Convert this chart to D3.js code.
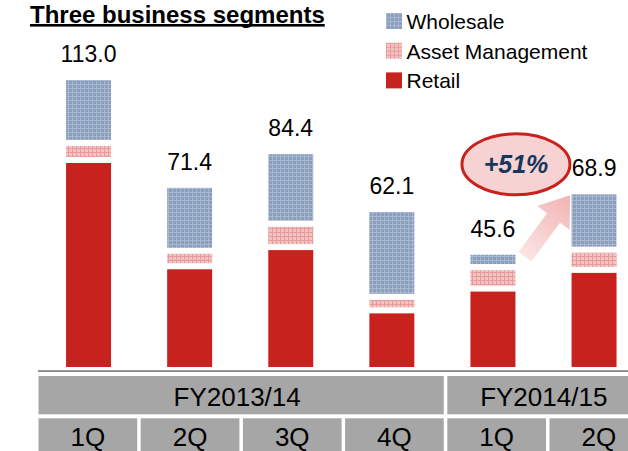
<!DOCTYPE html>
<html><head><meta charset="utf-8">
<script src="https://cdn.jsdelivr.net/npm/d3@7"></script>
<style>body{margin:0;background:#fff}svg{display:block;font-family:"Liberation Sans",Arial,sans-serif}</style>
</head><body><svg id="c" width="628" height="451"></svg>
<script>
// ---------- data ----------
const quarters = ["1Q","2Q","3Q","4Q","1Q","2Q"];
const fiscalYears = ["FY2013/14","FY2014/15"];
const fyOfQuarter = [0,0,0,0,1,1];
const retail    = [81.0, 40.0, 47.4, 23.0, 31.4, 38.6];
const assetMgmt = [ 6.6,  6.0,  9.0,  5.2,  8.3,  7.8];
const wholesale = [25.4, 25.4, 28.0, 33.9,  5.9, 22.5];
const totals      = [113.0, 71.4, 84.4, 62.1, 45.6, 68.9];
const totalLabels = ["113.0","71.4","84.4","62.1","45.6","68.9"];
const seriesNames = ["Wholesale","Asset Management","Retail"];
const growthLabel = "+51%";
const titleText = "Three business segments";

// ---------- setup ----------
const svg = d3.select("#c");
const W = 628, H = 451;
const idx = d3.range(quarters.length);
const rows = idx.map(i => ({i, Retail: retail[i], "Asset Management": assetMgmt[i], Wholesale: wholesale[i]}));
const stack = d3.stack().keys(["Retail","Asset Management","Wholesale"])(rows);

const x = d3.scaleBand().domain(idx).range([38, 644.6]).paddingInner(0.555).paddingOuter(0.2775);
const xt = d3.scaleBand().domain(idx).range([38.5, 651.7]).paddingInner(0).paddingOuter(0);
const y = d3.scaleLinear().domain([0, 113]).range([370, 77]);

// ---------- patterns ----------
const defs = svg.append("defs");
const pw = defs.append("pattern").attr("id","pW").attr("patternUnits","userSpaceOnUse").attr("width",4).attr("height",4);
pw.append("rect").attr("width",4).attr("height",4).attr("fill","#8a9fbd");
pw.append("rect").attr("x",0).attr("y",0).attr("width",4).attr("height",1).attr("fill","#a9b8ce");
pw.append("rect").attr("x",0).attr("y",0).attr("width",1).attr("height",4).attr("fill","#a9b8ce");

const pa = defs.append("pattern").attr("id","pA").attr("patternUnits","userSpaceOnUse").attr("width",4).attr("height",4);
pa.append("rect").attr("width",4).attr("height",4).attr("fill","#f3c3c3");
pa.append("rect").attr("x",0).attr("y",0).attr("width",4).attr("height",1).attr("fill","#e89b9b");
pa.append("rect").attr("x",0).attr("y",0).attr("width",1).attr("height",4).attr("fill","#e89b9b");

const fills = {"Wholesale":"url(#pW)","Asset Management":"url(#pA)","Retail":"#c8221f"};

const grad = defs.append("linearGradient").attr("id","gArrow").attr("gradientUnits","userSpaceOnUse");

// ---------- title ----------
const title = svg.append("text").attr("x",30).attr("y",22.5)
  .attr("font-size",24).attr("font-weight","bold").attr("fill","#000").text(titleText);
const tl = title.node().getComputedTextLength();
svg.append("rect").attr("x",30).attr("y",24).attr("width",tl).attr("height",2.6).attr("fill","#000");

// ---------- legend ----------
const leg = svg.append("g").selectAll("g").data(seriesNames).join("g")
  .attr("transform",(d,i)=>`translate(386,${29 + i*29.7})`);
leg.append("rect").attr("x",0).attr("y",-16).attr("width",16).attr("height",16).attr("fill",d=>fills[d]);
leg.append("text").attr("x",20.5).attr("y",0).attr("font-size",21).attr("fill","#000").text(d=>d);

// ---------- bars ----------
const gap = 3;
svg.append("g").selectAll("g").data(stack).join("g")
  .attr("fill",s=>fills[s.key])
  .selectAll("rect").data(s=>s).join("rect")
  .attr("x",d=>x(d.data.i))
  .attr("width",x.bandwidth())
  .attr("y",d=>y(d[1])+gap)
  .attr("height",d=>Math.max(0,y(d[0])-y(d[1])-2*gap));

// total labels
svg.append("g").selectAll("text").data(idx).join("text")
  .attr("x",i=>x(i)+x.bandwidth()/2)
  .attr("y",i=>y(totals[i])+gap-18)
  .attr("text-anchor","middle").attr("font-size",23).attr("fill","#000")
  .text(i=>totalLabels[i]);

// ---------- axis line & table ----------
svg.append("rect").attr("x",38).attr("y",370.2).attr("width",W-38).attr("height",1.8).attr("fill","#858585");

const cellGap = 3.5;
const fyGroups = fiscalYears.map((fy,k)=>{
  const cols = idx.filter(i=>fyOfQuarter[i]===k);
  return {fy, x0: xt(cols[0]), x1: xt(cols[cols.length-1]) + xt.step() - cellGap};
});
const fyG = svg.append("g").selectAll("g").data(fyGroups).join("g");
fyG.append("rect").attr("x",d=>d.x0).attr("y",376).attr("width",d=>d.x1-d.x0).attr("height",38.3).attr("fill","#a6a6a6");
fyG.append("text").attr("x",d=>(d.x0+d.x1)/2 - 4).attr("y",406)
  .attr("text-anchor","middle").attr("font-size",26).attr("fill","#000").text(d=>d.fy);

const qG = svg.append("g").selectAll("g").data(idx).join("g");
qG.append("rect").attr("x",i=>xt(i)).attr("y",418.3).attr("width",xt.step()-cellGap).attr("height",40).attr("fill","#a6a6a6");
qG.append("text").attr("x",i=>xt(i)+(xt.step()-cellGap)/2).attr("y",446)
  .attr("text-anchor","middle").attr("font-size",26).attr("fill","#000").text(i=>quarters[i]);

// ---------- growth annotation ----------
const cx4 = x(4)+x.bandwidth()/2, cx5 = x(5)+x.bandwidth()/2;
const tail = [cx4+32, y(totals[4])+5];
const tip  = [cx5-24, y(totals[5])+4];
const dx = tip[0]-tail[0], dy = tip[1]-tail[1], L = Math.hypot(dx,dy);
const ux = dx/L, uy = dy/L, nx = -uy, ny = ux;
const sh = 8, hh = 20, hl = 28;
const hb = [tip[0]-ux*hl, tip[1]-uy*hl];
const pts = [
  [tail[0]+nx*sh, tail[1]+ny*sh],
  [hb[0]+nx*sh, hb[1]+ny*sh],
  [hb[0]+nx*hh, hb[1]+ny*hh],
  tip,
  [hb[0]-nx*hh, hb[1]-ny*hh],
  [hb[0]-nx*sh, hb[1]-ny*sh],
  [tail[0]-nx*sh, tail[1]-ny*sh]
];
grad.attr("x1",tail[0]).attr("y1",tail[1]).attr("x2",tip[0]).attr("y2",tip[1]);
grad.append("stop").attr("offset","0%").attr("stop-color","#fbe4e4");
grad.append("stop").attr("offset","100%").attr("stop-color","#f2b3b3");
svg.append("polygon").attr("points",pts.map(p=>p.join(",")).join(" ")).attr("fill","url(#gArrow)");

const ecx = cx4+23, ecy = y(totals[5])-27;
svg.append("ellipse").attr("cx",ecx).attr("cy",ecy).attr("rx",54).attr("ry",30.5)
  .attr("fill","#f7d2d2").attr("stroke","#c8221f").attr("stroke-width",3);
svg.append("text").attr("x",ecx).attr("y",ecy+8.5).attr("text-anchor","middle")
  .attr("font-size",25).attr("font-weight","bold").attr("font-style","italic").attr("fill","#17375e")
  .text(growthLabel);
</script>
</body></html>
